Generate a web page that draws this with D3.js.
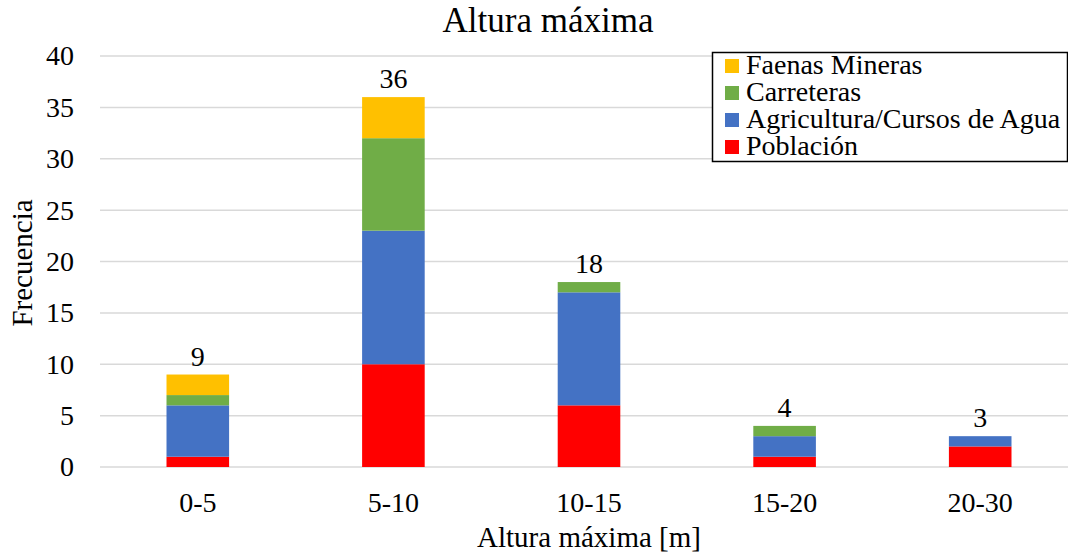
<!DOCTYPE html>
<html>
<head>
<meta charset="utf-8">
<script src="https://cdn.jsdelivr.net/npm/d3@7"></script>
<style>
  html, body { margin: 0; padding: 0; background: #fff; }
  svg { display: block; }
  svg text { font-family: "Liberation Serif", "DejaVu Serif", "Times New Roman", serif !important; fill: #000; }
</style>
</head>
<body>
<svg id="chart" width="1068" height="556"></svg>
<script>
// Height classes (m)
const categories = ["0-5", "5-10", "10-15", "15-20", "20-30"];

// Frequency per affected element, stacked bottom to top
const poblacion   = [1, 10, 6, 1, 2];
const agricultura = [5, 13, 11, 2, 1];
const carreteras  = [1, 9, 1, 1, 0];
const faenas      = [2, 4, 0, 0, 0];

const seriesNames  = ["Población", "Agricultura/Cursos de Agua", "Carreteras", "Faenas Mineras"];
const seriesColors = ["#ff0000", "#4472c4", "#70ad47", "#ffc000"];
const yTicks = [0, 5, 10, 15, 20, 25, 30, 35, 40];

const rows = categories.map((c, i) => ({
  cat: c,
  "Población": poblacion[i],
  "Agricultura/Cursos de Agua": agricultura[i],
  "Carreteras": carreteras[i],
  "Faenas Mineras": faenas[i]
}));
const totals = categories.map((c, i) => poblacion[i] + agricultura[i] + carreteras[i] + faenas[i]);

const svg = d3.select("#chart");
const plot = { left: 100, right: 1078, top: 56, bottom: 467 };

const x = d3.scaleBand().domain(categories).range([plot.left, plot.right]).paddingInner(0.68).paddingOuter(0.34);
const y = d3.scaleLinear().domain([0, 40]).range([plot.bottom, plot.top]);
const color = d3.scaleOrdinal().domain(seriesNames).range(seriesColors);

// Gridlines
svg.append("g")
  .selectAll("line")
  .data(yTicks)
  .join("line")
  .attr("x1", plot.left).attr("x2", plot.right)
  .attr("y1", d => y(d)).attr("y2", d => y(d))
  .attr("stroke", "#d9d9d9").attr("stroke-width", 1.5);

// Y axis labels
const yAxis = svg.append("g")
  .attr("transform", `translate(${plot.left - 26},0)`)
  .call(d3.axisLeft(y).tickValues(yTicks).tickSize(0).tickPadding(0));
yAxis.select(".domain").remove();
yAxis.selectAll("text").attr("font-size", 28);

// X axis labels
const xAxis = svg.append("g")
  .attr("transform", `translate(0,${plot.bottom + 45})`)
  .call(d3.axisBottom(x).tickSize(0).tickPadding(0));
xAxis.select(".domain").remove();
xAxis.selectAll("text").attr("font-size", 28).attr("dy", 0).attr("y", 0);

// Stacked bars
const stacked = d3.stack().keys(seriesNames)(rows);
svg.append("g")
  .selectAll("g")
  .data(stacked)
  .join("g")
  .attr("fill", d => color(d.key))
  .selectAll("rect")
  .data(d => d)
  .join("rect")
  .attr("x", d => x(d.data.cat))
  .attr("width", x.bandwidth())
  .attr("y", d => y(d[1]))
  .attr("height", d => y(d[0]) - y(d[1]));

// Totals above bars
svg.append("g")
  .selectAll("text")
  .data(categories)
  .join("text")
  .attr("x", d => x(d) + x.bandwidth() / 2)
  .attr("y", (d, i) => y(totals[i]) - 9)
  .attr("text-anchor", "middle")
  .attr("font-size", 28)
  .text((d, i) => totals[i]);

// Title
svg.append("text")
  .attr("x", 548).attr("y", 32)
  .attr("text-anchor", "middle")
  .attr("font-size", 35)
  .text("Altura máxima");

// Axis titles
svg.append("text")
  .attr("x", 589).attr("y", 547)
  .attr("text-anchor", "middle")
  .attr("font-size", 29)
  .text("Altura máxima [m]");

svg.append("text")
  .attr("transform", "translate(32,263) rotate(-90)")
  .attr("text-anchor", "middle")
  .attr("font-size", 29)
  .text("Frecuencia");

// Legend
const legend = svg.append("g").attr("transform", "translate(712,52)");
legend.append("rect")
  .attr("x", 0.5).attr("y", 0.5)
  .attr("width", 355).attr("height", 109)
  .attr("fill", "#fff").attr("stroke", "#000").attr("stroke-width", 1.5);
const legendOrder = seriesNames.slice().reverse();
const item = legend.selectAll("g.item")
  .data(legendOrder)
  .join("g")
  .attr("class", "item")
  .attr("transform", (d, i) => `translate(13,${14 + i * 27})`);
item.append("rect")
  .attr("width", 14).attr("height", 14).attr("y", -7)
  .attr("fill", d => color(d));
item.append("text")
  .attr("x", 21).attr("y", 8)
  .attr("font-size", 28)
  .text(d => d);
</script>
</body>
</html>
